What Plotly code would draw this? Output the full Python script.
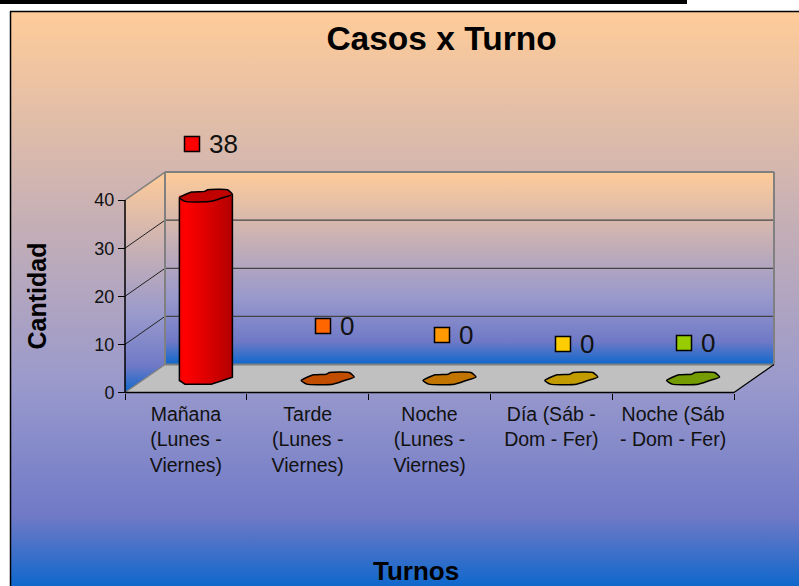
import base64
import numpy as np
import plotly.graph_objects as go

# ---- data ----
categories = ["Mañana<br>(Lunes -<br>Viernes)", "Tarde<br>(Lunes -<br>Viernes)", "Noche<br>(Lunes -<br>Viernes)",
              "Día (Sáb -<br>Dom - Fer)", "Noche (Sáb<br>- Dom - Fer)"]
values = [38, 0, 0, 0, 0]
colors = ["#FF0000", "#FF6600", "#FF9900", "#FFCC00", "#99CC00"]
y_ticks = [0, 10, 20, 30, 40]
title = "Casos x Turno"
x_title = "Turnos"
y_title = "Cantidad"

# ---- layout constants ----
W, H = 799, 586
X0, Y0 = 125, 392.5        # pixel of the front-left floor corner
CW, UY = 121.8, 4.81       # pixels per category, per unit
DX, DY = 40, 28            # depth offset of the back wall, pixels
FONT = "Liberation Sans"
x_rng = [-0.5 - X0 / CW, -0.5 + (W - X0) / CW]
y_rng = [(Y0 - H) / UY, Y0 / UY]
dx, dy = DX / CW, DY / UY   # depth in data units
xL, xR = -0.5, 4.5
yT = y_ticks[-1]
label_px = [(192, 144), (323, 326), (442, 335), (563, 344), (684, 343)]  # data label keys


def px(x, y):
    return (x - X0) / CW - 0.5, (Y0 - y) / UY


def grad_img(poly=None):
    shape = ('<rect width="100" height="100" fill="url(#g)"/>' if poly is None
             else f'<polygon points="{poly}" fill="url(#g)"/>')
    svg = ('<svg xmlns="http://www.w3.org/2000/svg" viewBox="0 0 100 100" preserveAspectRatio="none" '
           'width="400" height="400"><defs><linearGradient id="g" gradientUnits="userSpaceOnUse" x1="0" y1="0" x2="0" y2="100">'
           '<stop offset="0" stop-color="#FFCC99"/><stop offset="0.65" stop-color="#9999CC"/>'
           '<stop offset="0.88" stop-color="#6F79C6"/><stop offset="1" stop-color="#0F68CC"/>'
           '</linearGradient></defs>' + shape + '</svg>')
    return "data:image/svg+xml;base64," + base64.b64encode(svg.encode()).decode()


# low-poly skewed disc of a cylinder, in radii
disc_u = [-1.0, -0.54, -0.05, 0.07, 0.81, 1.0, 0.63, 0.2, -0.79, -1.0]
disc_v = [-0.33, 0.61, 0.72, 1.0, 1.0, 0.22, -0.33, -0.94, -0.94, -0.33]
rx, ry = 26.5 / CW, 6.0 / UY

fig = go.Figure()


def rgb(c, f):
    return "rgb(%d,%d,%d)" % tuple(int(int(c[i:i + 2], 16) * f) for i in (1, 3, 5))


for i, (v, c) in enumerate(zip(values, colors)):
    cx, base = i + dx / 2, dy / 2
    if v > 0:
        n = 52
        off = (np.arange(n) + 0.5) / n * 2 - 1
        lower = base + np.interp(off, [-1, -0.79, 0.2, 0.63, 1], [-0.33, -0.94, -0.94, -0.33, 0.22]) * ry
        # shade: bright left of centre, dark to the right
        f = np.interp(off, [-1, -0.75, -0.1, 1], [0.95, 1.0, 0.9, 0.7])
        fig.add_trace(go.Bar(x=cx + off * rx, y=v + base - lower, base=lower, width=2 * rx / n * 1.05,
                             marker=dict(color=[rgb(c, s) for s in f], line_width=0),
                             showlegend=False, hoverinfo="skip"))
        # outline of body
        us = [-1, -1, -0.79, 0.2, 0.63, 1, 1]
        vs = [-0.33, -0.33, -0.94, -0.94, -0.33, 0.22, 0.22]
        ox = [cx + u * rx for u in us]
        oy = [v + base - 0.33 * ry] + [base + s * ry for s in vs[1:-1]] + [v + base + 0.22 * ry]
        fig.add_trace(go.Scatter(x=ox, y=oy, mode="lines", line=dict(color="black", width=1.5),
                                 showlegend=False, hoverinfo="skip"))
    fig.add_trace(go.Scatter(x=[cx + u * rx for u in disc_u], y=[v + base + s * ry for s in disc_v],
                             mode="lines", fill="toself", fillcolor=rgb(c, 0.76),
                             line=dict(color="black", width=1.5, shape="spline", smoothing=0.55),
                             showlegend=False, hoverinfo="skip"))

# data-label keys
kx, ky = zip(*[px(*p) for p in label_px])
fig.add_trace(go.Scatter(x=kx, y=ky, mode="markers", showlegend=False, hoverinfo="skip",
                         marker=dict(symbol="square", size=15, color=colors, line=dict(color="black", width=1.5))))

# ---- walls and floor ----
shapes = []
line = lambda x0, y0, x1, y1, col, w: dict(type="line", xref="x", yref="y", x0=x0, y0=y0, x1=x1, y1=y1,
                                           line=dict(color=col, width=w), layer="between")
shapes.append(dict(type="path", xref="x", yref="y", layer="between", fillcolor="#C0C0C0", line_width=0,
                   path=f"M{xL},0 L{xR},0 L{xR + dx},{dy} L{xL + dx},{dy} Z"))
for t in y_ticks[1:-1]:
    shapes.append(line(xL, t, xL + dx, t + dy, "#222222", 1))
    shapes.append(line(xL + dx, t + dy, xR + dx, t + dy, "#444444", 1.2))
gray = "#808080"
shapes += [line(xL, yT, xL + dx, yT + dy, gray, 1.5), line(xL, 0, xL + dx, dy, gray, 1.5),
           line(xL + dx, dy, xL + dx, yT + dy, gray, 2), line(xL + dx, yT + dy, xR + dx, yT + dy, gray, 2),
           line(xR + dx, yT + dy, xR + dx, dy, gray, 2), line(xL + dx, dy, xR + dx, dy, gray, 2),
           line(xR, 0, xR + dx, dy, "black", 1.2),
           line(xL, 0, xR, 0, "black", 1.5), line(xL, 0, xL, yT, "black", 1.5)]
# page: frame and black rule at the top
shapes += [dict(type="rect", xref="paper", yref="paper", x0=0, x1=687 / W, y0=1 - 4 / H, y1=1,
                fillcolor="black", line_width=0, layer="below"),
           dict(type="line", xref="paper", yref="paper", x0=10.5 / W, x1=10.5 / W, y0=0, y1=1 - 11 / H,
                line=dict(color="black", width=1.5), layer="below"),
           dict(type="line", xref="paper", yref="paper", x0=10 / W, x1=1, y0=1 - 11.5 / H, y1=1 - 11.5 / H,
                line=dict(color="black", width=1.5), layer="below")]

images = [
    dict(source=grad_img(), xref="paper", yref="paper", x=11 / W, y=1 - 12 / H, sizex=1 - 11 / W, sizey=1 - 12 / H,
         sizing="stretch", xanchor="left", yanchor="top", layer="below"),
    dict(source=grad_img(), xref="x", yref="y", x=xL + dx, y=yT + dy, sizex=xR - xL, sizey=yT,
         sizing="stretch", xanchor="left", yanchor="top", layer="below"),
    dict(source=grad_img("0,%.2f 100,0 100,%.2f 0,100" % (100 * dy / (yT + dy), 100 * yT / (yT + dy))),
         xref="x", yref="y", x=xL, y=yT + dy, sizex=dx, sizey=yT + dy,
         sizing="stretch", xanchor="left", yanchor="top", layer="below"),
]

annotations = []
for (lx, ly), v in zip(label_px, values):
    annotations.append(dict(x=(lx + 15) / W, y=1 - (ly) / H, xref="paper", yref="paper", xanchor="left",
                            yanchor="middle", text=str(v), showarrow=False, font=dict(family=FONT, size=26, color="#111")))
annotations.append(dict(x=416 / W, y=1 - 570.5 / H, xref="paper", yref="paper", text=x_title, showarrow=False,
                        xanchor="center", yanchor="middle", font=dict(family=FONT, size=26, color="black", weight="bold")))
annotations.append(dict(x=36.5 / W, y=1 - 296 / H, xref="paper", yref="paper", text=y_title, showarrow=False, textangle=-90,
                        xanchor="center", yanchor="middle", font=dict(family=FONT, size=25, color="black", weight="bold")))

fig.update_layout(
    width=W, height=H, margin=dict(l=0, r=0, t=0, b=0, pad=0), autosize=False,
    paper_bgcolor="white", plot_bgcolor="rgba(0,0,0,0)", showlegend=False, barmode="overlay",
    title=dict(text=title, x=441.5 / W, y=1 - 38 / H, xanchor="center", yanchor="middle", xref="paper", yref="paper",
               font=dict(family=FONT, size=33.5, color="black", weight="bold")),
    xaxis=dict(domain=[0, 1], range=x_rng, anchor="free", position=(H - Y0) / H, showgrid=False, zeroline=False, showline=False,
               tickmode="array", tickvals=list(range(len(categories))), ticktext=categories, ticks="outside", ticklen=4,
               tickcolor="rgba(0,0,0,0)", tickangle=0,
               tickfont=dict(family=FONT, size=19.5, color="#111"),
               minor=dict(tickmode="array", tickvals=[i - 0.5 for i in range(len(categories) + 1)], ticks="outside",
                          ticklen=6, tickwidth=1.2, tickcolor="black", showgrid=False)),
    yaxis=dict(domain=[0, 1], range=y_rng, anchor="free", position=X0 / W, showgrid=False, zeroline=False, showline=False,
               tickmode="array", tickvals=y_ticks, ticks="outside", ticklen=7, tickwidth=1.2, tickcolor="black",
               tickfont=dict(family=FONT, size=18, color="#111")),
    shapes=shapes, images=images, annotations=annotations,
)
fig.write_html("out.html", config=dict(displayModeBar=False),
               post_script="document.body.style.margin='0';document.body.style.overflow='hidden';")
